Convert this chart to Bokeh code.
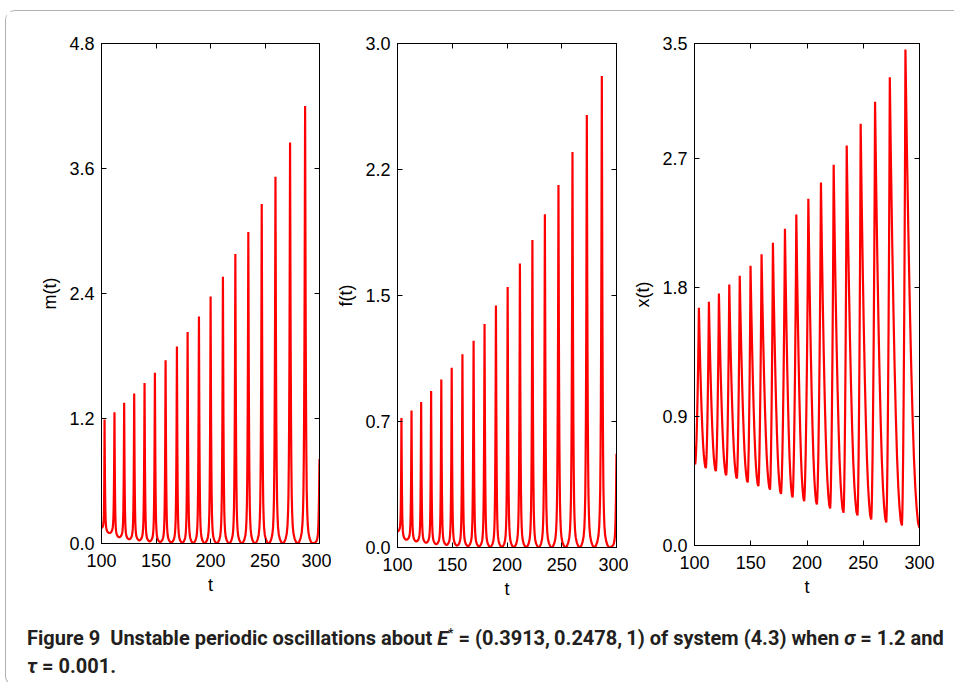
import numpy as np
from bokeh.plotting import figure
from bokeh.layouts import row, column
from bokeh.models import FixedTicker, Div, LinearAxis, Range1d
from bokeh.embed import file_html
from bokeh.resources import INLINE

# ---------------- data ----------------
t_ticks = [100, 150, 200, 250, 300]

# m(t)
m_peak_t = [102.8, 111.9, 120.8, 130.0, 139.5, 149.0, 158.8, 169.2, 179.0, 189.4,
            200.1, 211.4, 222.8, 234.7, 247.0, 259.6, 273.0, 286.8]
m_peak_v = [1.19, 1.26, 1.35, 1.44, 1.54, 1.64, 1.76, 1.89, 2.03, 2.18,
            2.37, 2.56, 2.78, 2.99, 3.26, 3.52, 3.85, 4.20]
m_trough_t = [107.3, 116.3, 125.4, 134.7, 144.2, 153.9, 164.0, 174.1, 184.2, 194.7,
              205.7, 217.1, 228.7, 240.8, 253.3, 266.3, 279.9, 293.6]
m_trough_v = [0.10, 0.06, 0.04, 0.03, 0.02, 0.014, 0.01, 0.007, 0.005, 0.004,
              0.003, 0.002, 0.002, 0.001, 0.001, 0.001, 0.001, 0.001]
m_start_v = 0.15
m_end_v = 0.81
m_ticks = [0.0, 1.2, 2.4, 3.6, 4.8]
m_tick_labels = ["0.0", "1.2", "2.4", "3.6", "4.8"]

# f(t)
f_peak_t = [103.6, 112.8, 121.6, 130.7, 140.0, 149.5, 159.3, 169.5, 179.5, 189.9,
            200.6, 211.8, 223.2, 234.6, 247.0, 259.8, 272.9, 286.6]
f_peak_v = [0.771, 0.815, 0.866, 0.932, 1.00, 1.07, 1.15, 1.23, 1.33, 1.44,
            1.55, 1.69, 1.83, 1.983, 2.157, 2.354, 2.575, 2.807]
f_trough_t = [108.2, 117.2, 126.2, 135.4, 144.8, 154.4, 164.4, 174.5, 184.7, 195.3,
              206.2, 217.5, 228.9, 240.8, 253.4, 266.4, 279.8, 293.4]
f_trough_v = [0.046, 0.036, 0.028, 0.02, 0.015, 0.011, 0.008, 0.006, 0.004, 0.003,
              0.002, 0.002, 0.001, 0.001, 0.001, 0.001, 0.001, 0.001]
f_start_v = 0.095
f_end_v = 0.558
f_ticks = [0.0, 0.75, 1.5, 2.25, 3.0]
f_tick_labels = ["0.0", "0.7", "1.5", "2.2", "3.0"]

# x(t)
x_trough_t = [100.6, 110.1, 119.0, 128.2, 137.7, 147.3, 156.8, 167.1, 176.9, 187.2,
              197.5, 208.8, 220.6, 232.5, 244.9, 257.1, 270.5, 284.4]
x_trough_v = [0.565, 0.54, 0.518, 0.49, 0.467, 0.44, 0.414, 0.39, 0.36, 0.335,
              0.309, 0.286, 0.258, 0.228, 0.209, 0.181, 0.16, 0.14]
x_peak_t = [103.9, 112.8, 121.7, 130.9, 140.2, 149.8, 159.6, 169.7, 180.4, 190.5,
            201.2, 212.4, 223.7, 235.3, 247.7, 260.5, 273.6, 287.5]
x_peak_v = [1.657, 1.70, 1.757, 1.82, 1.88, 1.95, 2.03, 2.11, 2.208, 2.308,
            2.417, 2.531, 2.654, 2.789, 2.94, 3.093, 3.265, 3.458]
x_start_v = 0.69
x_end_v = 0.123
x_ticks = [0.0, 0.9, 1.8, 2.7, 3.5]
x_tick_labels = ["0.0", "0.9", "1.8", "2.7", "3.5"]

# ---------------- curve shape templates (style) ----------------
SPIKE_U = [0, 0.2, 0.4, 0.55, 0.65, 0.72, 0.78, 0.83, 0.87, 0.91, 0.94, 0.97, 1.0]
SPIKE_G = [0, 0.003, 0.012, 0.025, 0.045, 0.075, 0.12, 0.2, 0.3, 0.45, 0.6, 0.8, 1.0]
XRISE_U = [0, 0.1, 0.2, 0.35, 0.5, 0.65, 0.8, 0.9, 1.0]
XRISE_G = [0, 0.02, 0.06, 0.15, 0.28, 0.44, 0.64, 0.8, 1.0]
XFALL_U = [0, 0.1, 0.2, 0.3, 0.4, 0.5, 0.6, 0.7, 0.8, 0.9, 1.0]
XFALL_G = [1, 0.8, 0.63, 0.48, 0.35, 0.24, 0.15, 0.085, 0.04, 0.01, 0]


def segment(t0, v0, t1, v1, U, G, lo_first):
    ts, vs = [], []
    for u, g in zip(U, G):
        ts.append(t0 + u * (t1 - t0))
        if lo_first:
            vs.append(v0 + g * (v1 - v0))
        else:
            vs.append(v1 + g * (v0 - v1))
    return ts, vs


def spike_curve(start_v, peak_t, peak_v, trough_t, trough_v, end_v):
    keys = [(100.0, start_v)]
    for pt, pv, tt, tv in zip(peak_t, peak_v, trough_t, trough_v):
        keys.append((pt, pv))
        keys.append((tt, tv))
    keys.append((300.0, end_v))
    down_U = [1 - u for u in reversed(SPIKE_U)]
    down_G = list(reversed(SPIKE_G))
    T, V = [keys[0][0]], [keys[0][1]]
    for (t0, v0), (t1, v1) in zip(keys[:-1], keys[1:]):
        if v1 > v0:
            ts, vs = segment(t0, v0, t1, v1, SPIKE_U, SPIKE_G, True)
        else:
            ts, vs = segment(t0, v0, t1, v1, down_U, down_G, False)
        T += ts[1:]
        V += vs[1:]
    return T, V


def x_curve():
    keys = [(100.0, x_start_v)]
    for tt, tv, pt, pv in zip(x_trough_t, x_trough_v, x_peak_t, x_peak_v):
        keys.append((tt, tv))
        keys.append((pt, pv))
    keys.append((300.0, x_end_v))
    T, V = [keys[0][0]], [keys[0][1]]
    for (t0, v0), (t1, v1) in zip(keys[:-1], keys[1:]):
        if v1 > v0:
            ts, vs = segment(t0, v0, t1, v1, XRISE_U, XRISE_G, True)
        else:
            ts, vs = segment(t0, v0, t1, v1, XFALL_U, XFALL_G, False)
        T += ts[1:]
        V += vs[1:]
    return T, V


FONT = "Liberation Sans"


def panel(T, V, ymax, yticks, ylabels, ylab, left, top, fw, fh, right, bottom):
    p = figure(frame_width=fw, frame_height=fh, output_backend="svg",
               toolbar_location=None, x_range=Range1d(100, 300),
               y_range=Range1d(0, ymax),
               min_border_left=left, min_border_top=top,
               min_border_right=right, min_border_bottom=bottom)
    p.line(T, V, line_color="#ff0000", line_width=2.2)
    p.grid.visible = False
    p.outline_line_color = "black"
    p.outline_line_width = 1
    p.background_fill_color = "white"
    p.border_fill_color = "white"
    p.xaxis.ticker = FixedTicker(ticks=t_ticks)
    p.yaxis.ticker = FixedTicker(ticks=yticks)
    p.yaxis.major_label_overrides = {k: v for k, v in zip(yticks, ylabels)}
    for ax in (p.xaxis[0], p.yaxis[0]):
        ax.major_tick_in = 5
        ax.major_tick_out = 0
        ax.minor_tick_line_color = None
        ax.axis_line_color = "black"
        ax.major_tick_line_color = "black"
        ax.major_label_text_font = FONT
        ax.major_label_text_font_size = "18px"
        ax.major_label_text_color = "black"
        ax.axis_label_text_font = FONT
        ax.axis_label_text_font_size = "18px"
        ax.axis_label_text_font_style = "normal"
        ax.axis_label_text_color = "black"
    p.xaxis.axis_label = "t"
    p.yaxis.axis_label = ylab
    p.xaxis.major_label_standoff = 10
    p.xaxis.axis_label_standoff = 5
    p.yaxis.major_label_standoff = 7
    p.yaxis.axis_label_standoff = 6
    top_ax = LinearAxis(ticker=FixedTicker(ticks=t_ticks))
    right_ax = LinearAxis(ticker=FixedTicker(ticks=yticks))
    for ax in (top_ax, right_ax):
        ax.major_tick_in = 5
        ax.major_tick_out = 0
        ax.minor_tick_line_color = None
        ax.axis_line_color = "black"
        ax.major_tick_line_color = "black"
        ax.major_label_text_font_size = "1px"
        ax.major_label_text_color = None
        ax.major_label_standoff = 0
    p.add_layout(top_ax, "above")
    p.add_layout(right_ax, "right")
    return p


mT, mV = spike_curve(m_start_v, m_peak_t, m_peak_v, m_trough_t, m_trough_v, m_end_v)
fT, fV = spike_curve(f_start_v, f_peak_t, f_peak_v, f_trough_t, f_trough_v, f_end_v)
xT, xV = x_curve()

p1 = panel(mT, mV, 4.8, m_ticks, m_tick_labels, "m(t)", 95, 32, 218, 500, 12, 60)
p2 = panel(fT, fV, 3.0, f_ticks, f_tick_labels, "f(t)", 66, 28, 219, 504, 12, 60)
p3 = panel(xT, xV, 3.5, x_ticks, x_tick_labels, "x(t)", 66, 28, 225, 502, 28, 62)

caption = Div(
    text=('<div style="font-family:Roboto, sans-serif; font-weight:bold; font-size:20px; '
          'line-height:28px; color:#231f20; padding:11px 0 0 16px; white-space:nowrap;">'
          'Figure 9&nbsp;&nbsp;Unstable periodic oscillations about <i>E</i><sup style="font-size:12px">*</sup>'
          ' = (0.3913,&thinsp;0.2478,&thinsp;1) of system (4.3) when <i>&sigma;</i> = 1.2 and<br>'
          '<i>&tau;</i> = 0.001.</div>'),
    width=940, height=72)

layout = column(row(p1, p2, p3, spacing=0), caption, spacing=0,
                margin=(10, 0, 0, 5),
                styles={"border-left": "1px solid #b0b0b0", "border-top": "1px solid #b0b0b0",
                        "border-bottom": "1px solid #b0b0b0",
                        "border-top-left-radius": "10px", "border-bottom-left-radius": "10px"})

open("out.html", "w").write(file_html(layout, INLINE))
